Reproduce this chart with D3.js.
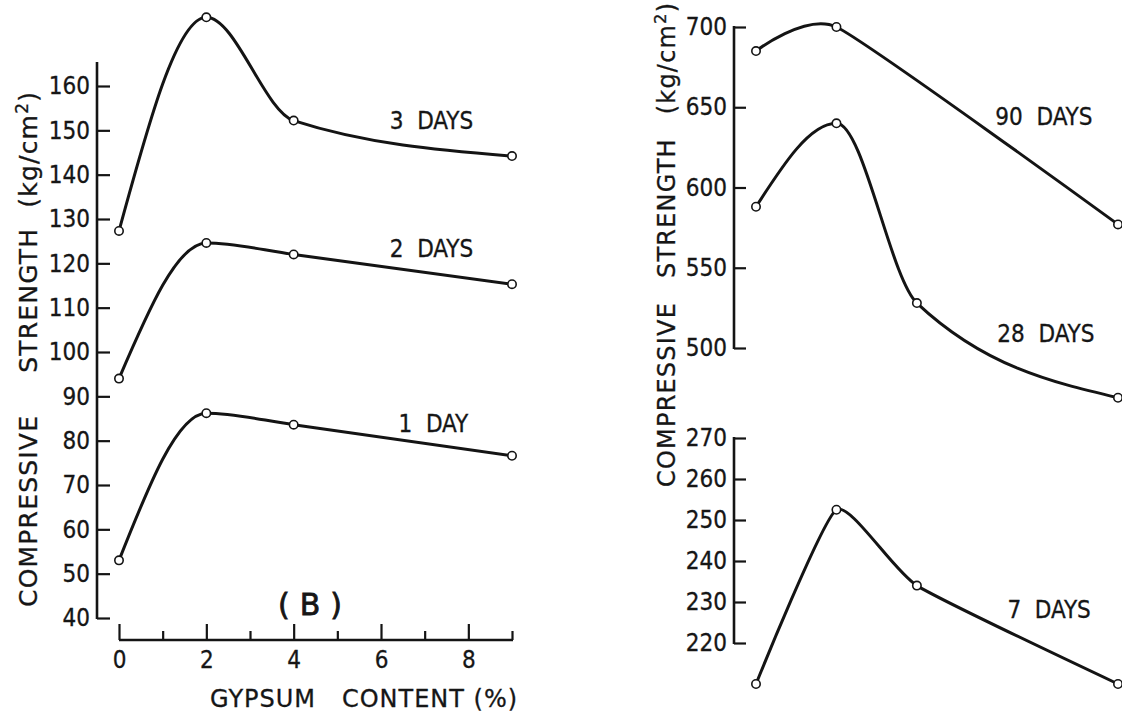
<!DOCTYPE html>
<html>
<head>
<meta charset="utf-8">
<script src="https://cdn.jsdelivr.net/npm/d3@7"></script>
<style>
  body { margin: 0; background: #fff; }
  svg { display: block; }
  text { fill: #161616; font-family: "DejaVu Sans Condensed", "DejaVu Sans", sans-serif; }
  .curve { fill: none; stroke: #141414; stroke-width: 3; }
  .pt { fill: #fff; stroke: #141414; stroke-width: 1.6; }
  .axis-line { stroke: #141414; stroke-width: 2.6; fill: none; }
  .axis .tick line { stroke: #141414; stroke-width: 2.2; }
  .axis .domain { display: none; }
  .axis text { font-size: 24px; stroke: #161616; stroke-width: 0.3; }
  .lbl { font-size: 24px; white-space: pre; stroke: #161616; stroke-width: 0.3; }
  .title { font-size: 25px; white-space: pre; letter-spacing: 1.2px;
           font-family: "DejaVu Sans", sans-serif; stroke: #161616; stroke-width: 0.3; }
</style>
</head>
<body>
<svg width="1122" height="713"></svg>
<script>
// gypsum content (%)
const gypsum = [0, 2, 4, 9];
const gypsum90 = [0, 2, 9];

// compressive strength (kg/cm2), panel B (left)
const day1 = [53, 86.2, 83.6, 76.6];
const day2 = [94, 124.6, 122, 115.3];
const day3 = [127.3, 175.5, 152.2, 144.2];

// right panel
const day7 = [210, 252.5, 234, 210];
const day28 = [588, 640, 528, 469];
const day90 = [685, 700, 577];

const leftTicks = d3.range(40, 161, 10);
const upperTicks = [500, 550, 600, 650, 700];
const lowerTicks = [220, 230, 240, 250, 260, 270];
const gypsumTicks = [0, 2, 4, 6, 8];
const gypsumMinor = [1, 3, 5, 7, 9];

function draw() {
  const svg = d3.select("svg");

  // scales
  const xL = d3.scaleLinear().domain([0, 9]).range([119, 512]);
  const yL = d3.scaleLinear().domain([40, 160]).range([618, 86]);
  const xR = d3.scaleLinear().domain([0, 9]).range([756, 1118]);
  const yUp = d3.scaleLinear().domain([500, 700]).range([348, 27]);
  const yLow = d3.scaleLinear().domain([220, 270]).range([643, 438]);

  // left y axis, ticks pointing inward
  svg.append("g").attr("class", "axis").attr("transform", "translate(97,0)")
    .call(d3.axisLeft(yL).tickValues(leftTicks).tickSize(-13).tickPadding(7));
  svg.append("line").attr("class", "axis-line")
    .attr("x1", 97).attr("x2", 97).attr("y1", yL(40) + 1).attr("y2", yL(165.4));

  // left x axis (ticks point up)
  svg.append("g").attr("class", "axis").attr("transform", "translate(0,640)")
    .call(d3.axisBottom(xL).tickValues(gypsumTicks).tickSize(-16).tickPadding(11));
  svg.append("g").attr("class", "axis").attr("transform", "translate(0,640)")
    .call(d3.axisBottom(xL).tickValues(gypsumMinor).tickSize(-9).tickFormat(""));
  svg.append("line").attr("class", "axis-line")
    .attr("x1", xL(0)).attr("x2", xL(9) + 1).attr("y1", 640).attr("y2", 640);

  // right axes
  svg.append("g").attr("class", "axis").attr("transform", "translate(734,0)")
    .call(d3.axisLeft(yUp).tickValues(upperTicks).tickSize(-12).tickPadding(7));
  svg.append("line").attr("class", "axis-line")
    .attr("x1", 734).attr("x2", 734).attr("y1", yUp(500) + 1).attr("y2", yUp(700) - 1);
  svg.append("g").attr("class", "axis").attr("transform", "translate(734,0)")
    .call(d3.axisLeft(yLow).tickValues(lowerTicks).tickSize(-12).tickPadding(7));
  svg.append("line").attr("class", "axis-line")
    .attr("x1", 734).attr("x2", 734).attr("y1", yLow(220) + 1).attr("y2", yLow(270) - 1);

  // series (label anchor given in data units)
  const series = [
    { name: "1  DAY", xs: gypsum, ys: day1, x: xL, y: yL, at: [6.4, 82], curve: d3.curveMonotoneX },
    { name: "2  DAYS", xs: gypsum, ys: day2, x: xL, y: yL, at: [6.2, 121.5], curve: d3.curveMonotoneX },
    { name: "3  DAYS", xs: gypsum, ys: day3, x: xL, y: yL, at: [6.2, 150.3], curve: d3.curveMonotoneX },
    { name: "7  DAYS", xs: gypsum, ys: day7, x: xR, y: yLow, at: [6.25, 226], curve: d3.curveCardinal.tension(0.5) },
    { name: "28  DAYS", xs: gypsum, ys: day28, x: xR, y: yUp, at: [6.0, 503.7], curve: d3.curveMonotoneX },
    { name: "90  DAYS", xs: gypsum90, ys: day90, x: xR, y: yUp, at: [5.95, 639], curve: d3.curveCardinal.tension(0.5) },
  ];

  series.forEach((s) => {
    const pts = s.xs.map((g, i) => [g, s.ys[i]]);
    const line = d3.line()
      .x((d) => s.x(d[0]))
      .y((d) => s.y(d[1]))
      .curve(s.curve);
    svg.append("path").attr("class", "curve").attr("d", line(pts));
    svg.selectAll(null)
      .data(pts)
      .join("circle")
      .attr("class", "pt")
      .attr("r", 4.2)
      .attr("cx", (d) => s.x(d[0]))
      .attr("cy", (d) => s.y(d[1]));
    svg.append("text").attr("class", "lbl")
      .attr("x", s.x(s.at[0]))
      .attr("y", s.y(s.at[1]))
      .text(s.name);
  });

  // vertical titles
  function yTitle(x, yStart, gap1, gap2, size) {
    const t = svg.append("text").attr("class", "title")
      .attr("transform", `translate(${x},${yStart}) rotate(-90)`)
      .style("font-size", size + "px");
    t.append("tspan").text("COMPRESSIVE");
    t.append("tspan").attr("dx", gap1).text("STRENGTH");
    t.append("tspan").attr("dx", gap2).text("(kg/cm");
    t.append("tspan").attr("dy", -9).style("font-size", (size * 0.68) + "px").text("2");
    t.append("tspan").attr("dy", 9).text(")");
  }
  yTitle(37, 607, 42, 20, 25);
  yTitle(675, 487, 24, 24, 24);

  svg.append("text").attr("class", "title")
    .attr("x", 210).attr("y", 707)
    .style("font-size", "24px").style("letter-spacing", "1px")
    .text("GYPSUM   CONTENT (%)");

  svg.append("text")
    .attr("x", 315).attr("y", 615)
    .attr("text-anchor", "middle")
    .style("font-size", "30px")
    .style("letter-spacing", "10px")
    .style("font-family", "DejaVu Sans, sans-serif")
    .style("stroke", "#161616").style("stroke-width", 0.8)
    .text("(B)");
}

draw();
</script>
</body>
</html>
